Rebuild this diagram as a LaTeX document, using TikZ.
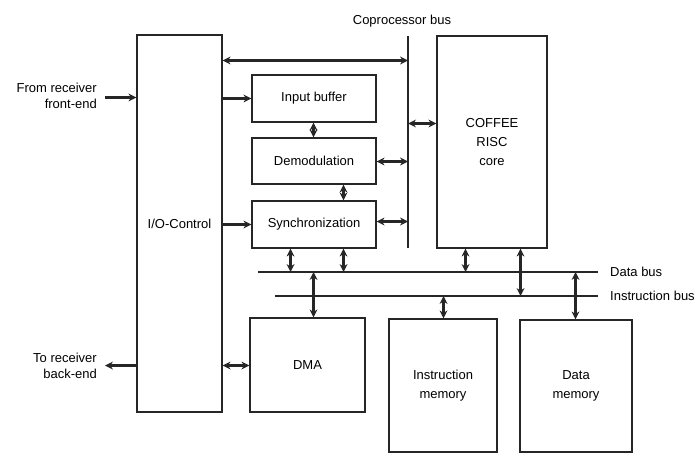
\documentclass[tikz,border=0pt]{standalone}
\usepackage{fontspec}
\setmainfont{Liberation Sans}
\usetikzlibrary{arrows.meta}
\begin{document}
\begin{tikzpicture}[x=1pt,y=-1pt,
  blk/.style={draw=black!85,line width=1.2pt,rectangle,inner sep=0pt,align=center,
    font=\fontsize{13}{19}\selectfont},
  bus/.style={line width=2.6pt,draw=black!85},
  tip/.tip={Stealth[length=8pt,width=8pt,line width=0pt]},
  lnk/.style={line width=2.6pt,draw=black!85,tip-tip},
  one/.style={line width=2.6pt,draw=black!85,-tip},
  lbl/.style={font=\fontsize{13}{16}\selectfont,inner sep=0pt}]
\useasboundingbox (0,0) rectangle (698,457);
% blocks
\node[blk,minimum width=85pt,minimum height=377pt] (io) at (179.5,223.5) {I/O-Control};
\node[blk,minimum width=124pt,minimum height=47pt] (ib) at (314,98.5) {Input buffer};
\node[blk,minimum width=124pt,minimum height=46pt] (dem) at (314,161) {Demodulation};
\node[blk,minimum width=124pt,minimum height=47pt] (syn) at (314,224.5) {Synchronization};
\node[blk,minimum width=110pt,minimum height=212pt] (core) at (492,142) {COFFEE\\RISC\\core};
\node[blk,minimum width=115pt,minimum height=94pt] (dma) at (307.5,365) {DMA};
\node[blk,minimum width=108pt,minimum height=133pt] (im) at (443,385.5) {Instruction\\memory};
\node[blk,minimum width=112pt,minimum height=132pt] (dm) at (576,386) {Data\\memory};
% buses
\coordinate (cpT) at (408,36);
\coordinate (cpB) at (408,248);
\coordinate (dbL) at (258,272);
\coordinate (dbR) at (598,272);
\coordinate (ibL) at (275,296);
\coordinate (ibR) at (598,296);
\draw[bus] (cpT) -- (cpB);
\draw[bus] (dbL) -- (dbR);
\draw[bus] (ibL) -- (ibR);
\node[lbl,anchor=south] (cplab) at (402,27) {Coprocessor bus};
\node[lbl,anchor=west] (dblab) at (610,272) {Data bus};
\node[lbl,anchor=west] (iblab) at (610,296) {Instruction bus};
% external
\coordinate (fe) at (105,97.5);
\coordinate (be) at (105,365.5);
\node[lbl,anchor=east,align=right] (felab) at (97,96) {From receiver\\front-end};
\node[lbl,anchor=east,align=right] (belab) at (97,366) {To receiver\\back-end};
\draw[one] (fe) -- (io.west |- fe);
\draw[one] (io.west |- be) -- (be);
% I/O links
\coordinate (t1) at (408,60.5);
\draw[lnk] (io.east |- t1) -- (t1);
\draw[one] (io.east |- ib.west) -- (ib.west);
\draw[one] (io.east |- syn.west) -- (syn.west);
\draw[lnk] (io.east |- be) -- (dma.west |- be);
% chain
\coordinate (c1) at (313.5,0);
\draw[lnk] (c1 |- ib.south) -- (c1 |- dem.north);
\coordinate (c2) at (343.5,0);
\draw[lnk] (c2 |- dem.south) -- (c2 |- syn.north);
% to coprocessor bus
\coordinate (s0) at (0,161.5);
\draw[lnk] (dem.east |- s0) -- (cpT |- s0);
\coordinate (s1) at (0,221.5);
\draw[lnk] (syn.east |- s1) -- (cpT |- s1);
\coordinate (k1) at (0,123.5);
\draw[lnk] (cpT |- k1) -- (core.west |- k1);
% to data bus
\coordinate (d1) at (290.5,0);
\coordinate (d2) at (343.5,0);
\draw[lnk] (d1 |- syn.south) -- (d1 |- dbL);
\draw[lnk] (d2 |- syn.south) -- (d2 |- dbL);
\coordinate (d3) at (313.5,0);
\draw[lnk] (d3 |- dbL) -- (d3 |- dma.north);
\coordinate (d4) at (465.5,0);
\coordinate (d5) at (520.5,0);
\draw[lnk] (d4 |- core.south) -- (d4 |- dbL);
\draw[lnk] (d5 |- core.south) -- (d5 |- ibL);
\coordinate (d7) at (443.5,0);
\draw[lnk] (d7 |- im.north) -- (d7 |- ibL);
\coordinate (d6) at (575.5,0);
\draw[lnk] (d6 |- dbL) -- (d6 |- dm.north);
\end{tikzpicture}
\end{document}
